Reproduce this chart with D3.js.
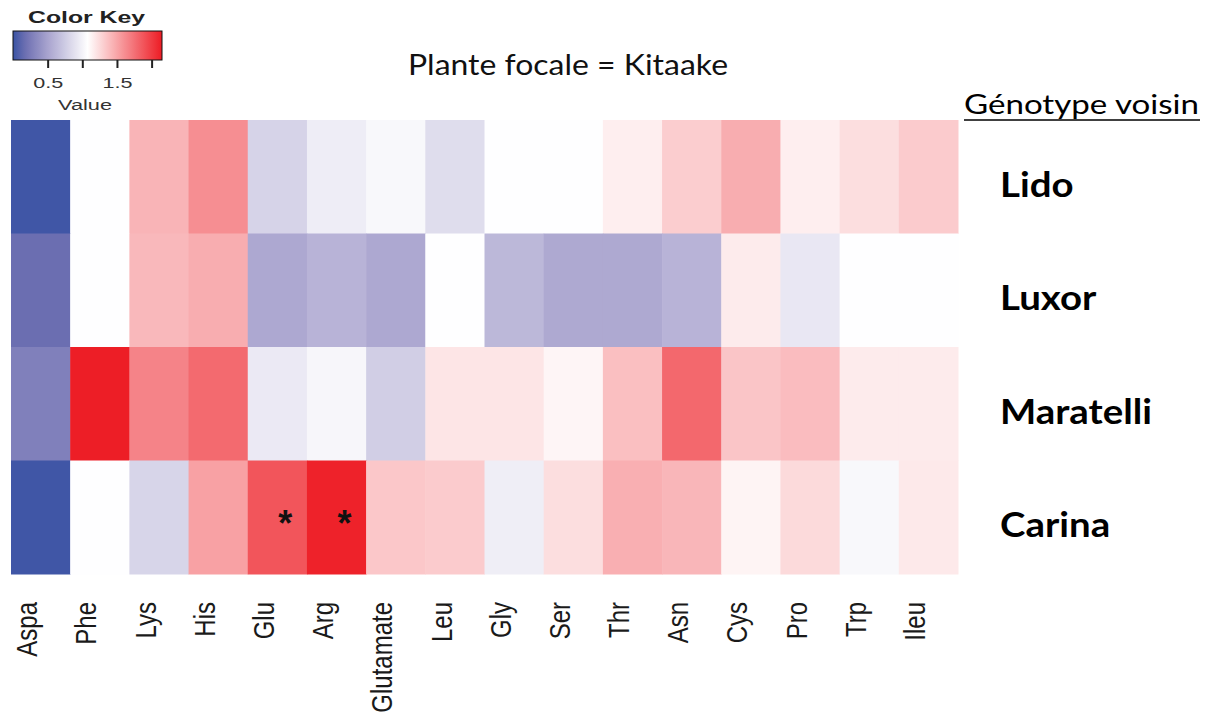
<!DOCTYPE html>
<html>
<head>
<meta charset="utf-8">
<script src="https://cdn.jsdelivr.net/npm/d3@7"></script>
<style>
  html, body { margin: 0; padding: 0; background: #fff; }
  svg { display: block; }
</style>
</head>
<body>
<svg id="chart" width="1209" height="715"></svg>
<script>
// ---------------- DATA ----------------
const aminoAcids = ["Aspa","Phe","Lys","His","Glu","Arg","Glutamate","Leu","Gly","Ser","Thr","Asn","Cys","Pro","Trp","Ileu"];
const genotypes = ["Lido","Luxor","Maratelli","Carina"];
const lidoValues      = [0.02, 1.07, 1.43, 1.61, 0.80, 0.965, 1.03, 0.865, 1.07, 1.07, 1.155, 1.31, 1.465, 1.155, 1.23, 1.32];
const luxorValues     = [0.17, 1.07, 1.41, 1.465, 0.53, 0.60, 0.53, 1.07, 0.63, 0.535, 0.535, 0.60, 1.17, 0.927, 1.07, 1.07];
const maratelliValues = [0.28, 2.14, 1.66, 1.78, 0.94, 1.02, 0.77, 1.20, 1.20, 1.12, 1.38, 1.79, 1.35, 1.39, 1.17, 1.17];
const carinaValues    = [0.02, 1.07, 0.81, 1.52, 1.88, 2.12, 1.34, 1.32, 0.97, 1.23, 1.455, 1.42, 1.127, 1.25, 1.03, 1.18];
const significantCells = [["Carina","Glu"],["Carina","Arg"]];
const keyTicks = [0.5, 1.0, 1.5, 2.0];
const keyTickLabels = ["0.5", "", "1.5", ""];
const keyDomain = [0, 2.15];
const titleText = "Plante focale = Kitaake";
const rowHeaderText = "Génotype voisin";

const seriesByGenotype = {Lido: lidoValues, Luxor: luxorValues, Maratelli: maratelliValues, Carina: carinaValues};
const cells = [];
genotypes.forEach(g => seriesByGenotype[g].forEach((v, i) => cells.push({row: g, col: aminoAcids[i], value: v})));

// ---------------- SCALES ----------------
const svg = d3.select("#chart");
const x = d3.scaleBand().domain(aminoAcids).range([11, 958]).paddingInner(0).paddingOuter(0);
const y = d3.scaleBand().domain(genotypes).range([120, 574]).paddingInner(0).paddingOuter(0);

const color = d3.scaleLinear()
  .domain([0, 0.17, 0.28, 0.53, 1.075, 2.15])
  .range(["#3a53a4", "#6b6eb1", "#8080bb", "#ada8d1", "#ffffff", "#ed1c24"])
  .interpolate(d3.interpolateRgb)
  .clamp(true);

// ---------------- HEATMAP ----------------
svg.append("g").selectAll("rect").data(cells).join("rect")
  .attr("x", d => x(d.col))
  .attr("y", d => y(d.row))
  .attr("width", x.bandwidth() + 0.5)
  .attr("height", y.bandwidth() + 0.5)
  .attr("fill", d => color(d.value));

// significance asterisks
svg.append("g").selectAll("text").data(significantCells).join("text")
  .attr("x", d => x(d[1]) + x.bandwidth() / 2 + 8)
  .attr("y", d => y(d[0]) + y.bandwidth() / 2 + 19)
  .attr("text-anchor", "middle")
  .attr("font-family", "Liberation Sans, Arial, sans-serif")
  .attr("font-weight", "bold")
  .attr("font-size", 36)
  .attr("fill", "#111")
  .text("*");

// column labels (rotated)
svg.append("g").selectAll("text").data(aminoAcids).join("text")
  .attr("transform", d => `translate(${x(d) + x.bandwidth() / 2 - 12},602) scale(1.2,1) rotate(-90)`)
  .attr("text-anchor", "end")
  .attr("dy", "0.3em")
  .attr("font-family", "Liberation Sans, Arial, sans-serif")
  .attr("font-size", 24)
  .attr("fill", "#1a1a1a")
  .text(d => d);

// row labels
svg.append("g").selectAll("text").data(genotypes).join("text")
  .attr("transform", d => `translate(1000,${y(d) + y.bandwidth() / 2 + 20}) scale(1.13,1)`)
  .attr("font-family", "Lato, Carlito, Calibri, sans-serif")
  .attr("font-weight", "bold")
  .attr("font-size", 34)
  .attr("fill", "#000")
  .text(d => d);

// row header
svg.append("text")
  .attr("x", 964).attr("y", 114)
  .attr("font-family", "Lato, Carlito, Calibri, sans-serif")
  .attr("font-size", 26)
  .attr("textLength", 235).attr("lengthAdjust", "spacingAndGlyphs")
  .attr("fill", "#000")
  .text(rowHeaderText);
svg.append("line")
  .attr("x1", 964).attr("x2", 1200).attr("y1", 120).attr("y2", 120)
  .attr("stroke", "#000").attr("stroke-width", 1.5);

// title
svg.append("text")
  .attr("x", 408).attr("y", 75)
  .attr("font-family", "Lato, Carlito, Calibri, sans-serif")
  .attr("font-size", 28)
  .attr("textLength", 320).attr("lengthAdjust", "spacingAndGlyphs")
  .attr("fill", "#111")
  .text(titleText);

// ---------------- COLOR KEY ----------------
const keyX = d3.scaleLinear().domain(keyDomain).range([13, 162]);
const defs = svg.append("defs");
const grad = defs.append("linearGradient").attr("id", "keygrad").attr("x1", "0%").attr("x2", "100%");
d3.range(0, 41).forEach(i => {
  const v = keyDomain[0] + (keyDomain[1] - keyDomain[0]) * i / 40;
  grad.append("stop").attr("offset", (i / 40 * 100) + "%").attr("stop-color", color(v));
});
svg.append("rect")
  .attr("x", keyX(keyDomain[0])).attr("y", 31)
  .attr("width", keyX(keyDomain[1]) - keyX(keyDomain[0])).attr("height", 29)
  .attr("fill", "url(#keygrad)")
  .attr("stroke", "#111").attr("stroke-width", 1);

const keyAxis = d3.axisBottom(keyX).tickValues(keyTicks).tickSize(8).tickFormat((d, i) => keyTickLabels[i]);
const ka = svg.append("g").attr("transform", "translate(0,60)").call(keyAxis);
ka.select(".domain").remove();
ka.selectAll(".tick line").attr("stroke", "#222").attr("stroke-width", 2);
ka.selectAll(".tick text")
  .attr("y", 18)
  .attr("dy", "0.71em")
  .attr("font-family", "Liberation Sans, Arial, sans-serif")
  .attr("font-size", 14)
  .attr("fill", "#333")
  .each(function(d, i) { if (keyTickLabels[i]) d3.select(this).attr("textLength", 30).attr("lengthAdjust", "spacingAndGlyphs"); });

svg.append("text")
  .attr("x", 28).attr("y", 23)
  .attr("font-family", "Liberation Sans, Arial, sans-serif")
  .attr("font-weight", "bold")
  .attr("font-size", 16)
  .attr("textLength", 117).attr("lengthAdjust", "spacingAndGlyphs")
  .attr("fill", "#222")
  .text("Color Key");
svg.append("text")
  .attr("x", 58).attr("y", 110)
  .attr("font-family", "Liberation Sans, Arial, sans-serif")
  .attr("font-size", 14)
  .attr("textLength", 54).attr("lengthAdjust", "spacingAndGlyphs")
  .attr("fill", "#333")
  .text("Value");
</script>
</body>
</html>
